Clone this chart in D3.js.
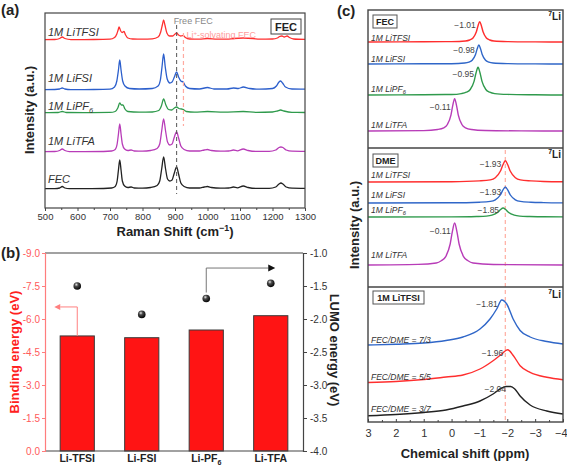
<!DOCTYPE html>
<html><head><meta charset="utf-8">
<script src="https://cdn.jsdelivr.net/npm/d3@7"></script>
<style>body{margin:0;background:#fff}svg{display:block;font-family:"Liberation Sans",Arial,Helvetica,sans-serif}</style>
</head><body><svg width="567" height="468"></svg>
<script>
// ---------------- DATA ----------------
// Panel (a) Raman spectra: [wavenumber (cm-1), intensity above own baseline]
const ramanTicks = [500,600,700,800,900,1000,1100,1200,1300];
const ramanMinor = [550,650,750,850,950,1050,1150,1250];
const ramanSeries = ["1M LiTFSI","1M LiFSI","1M LiPF_{6}","1M LiTFA","FEC"];
const ramanColors = ["#ff3030","#2c5fcc","#2f9a4c","#b83cb8","#222222"];
const ramanOffsets = [168,118,95,56,19];
const ramanLiTFSI = [[500,0.3],[530,0.5],[545,1.5],[553,3],[561,1.5],[580,0.4],[650,0.5],[700,0.8],[714,2.5],[721,6],[725,10],[728,13],[733,9],[737,7.5],[743,8.5],[748,5],[755,2],[770,1],[800,0.8],[830,1.2],[848,3],[856,8],[861,15],[865,20],[869,15],[875,7],[883,4],[893,4],[900,6],[905,7],[911,5],[918,4],[925,4.5],[932,2.5],[945,1],[975,0.8],[1000,1.5],[1030,0.8],[1060,0.8],[1080,1.5],[1110,2],[1140,1.5],[1160,0.8],[1200,1],[1215,2],[1222,3.5],[1229,4],[1236,3],[1245,4],[1252,2.5],[1265,1],[1300,0.6]];
const ramanLiFSI = [[500,0.3],[530,0.5],[545,1],[553,2],[561,1],[580,0.4],[650,0.5],[700,0.8],[714,3],[721,9],[726,20],[730,30],[734,20],[739,9],[746,4],[760,1.5],[790,1],[830,1.5],[848,4],[855,10],[860,23],[865,36],[870,23],[876,11],[884,7],[891,8],[898,13],[905,18],[911,13],[918,9],[925,8],[932,4],[945,1.5],[975,1],[1000,2.5],[1020,1],[1060,1],[1080,2],[1095,1.5],[1110,3],[1130,1.5],[1160,0.8],[1200,1.5],[1212,4],[1220,8],[1225,9],[1231,7],[1240,3],[1260,1],[1300,0.8]];
const ramanLiPF6 = [[500,0.3],[540,0.5],[553,1.5],[566,0.5],[620,0.4],[700,0.6],[716,1.5],[724,5],[730,10],[735,8],[740,8],[746,4],[755,1.5],[790,0.8],[830,1],[850,2.5],[858,7],[865,14],[872,8],[880,3.5],[890,3],[898,5],[905,6],[912,4.5],[920,4],[926,3.5],[935,1.5],[960,0.8],[1000,1.5],[1050,0.8],[1110,1.5],[1150,0.6],[1200,1],[1215,2],[1225,3],[1235,2],[1260,0.6],[1300,0.5]];
const ramanLiTFA = [[500,0.3],[530,0.5],[545,1.5],[553,3],[561,1.5],[575,0.4],[620,0.4],[680,0.5],[705,1],[716,2.5],[722,8],[726,18],[730,28],[734,18],[738,8],[745,3],[755,1.5],[765,2],[775,1],[800,0.8],[825,1.5],[845,3.5],[853,8],[859,21],[865,33],[871,21],[877,10],[884,7],[891,8],[897,14],[905,20],[911,14],[918,6],[928,2.5],[945,1],[975,1],[990,2],[1000,2.5],[1012,1.5],[1040,0.8],[1065,1],[1080,2],[1092,1.2],[1110,3],[1125,1.5],[1150,0.6],[1190,0.6],[1210,2],[1220,4.5],[1226,5],[1232,4.5],[1242,2],[1260,0.8],[1300,0.6]];
const ramanFEC = [[500,0.3],[530,0.4],[545,1],[553,2.5],[561,1],[575,0.3],[620,0.4],[680,0.5],[705,1],[716,2.5],[722,8],[726,19],[730,29],[734,19],[738,8],[745,3],[755,1.5],[765,2],[775,1],[800,0.8],[825,1.5],[845,3.5],[853,8],[859,20],[865,32],[871,20],[877,10],[884,8],[891,9],[897,15],[905,22],[911,15],[918,6],[928,2.5],[945,1],[975,1],[990,2],[1000,2.5],[1012,1.5],[1040,0.8],[1065,1],[1080,2],[1092,1.2],[1110,3],[1125,1.5],[1150,0.6],[1190,0.6],[1210,2],[1220,5],[1226,6],[1232,5],[1242,2],[1260,0.8],[1300,0.6]];
const ramanData = [ramanLiTFSI, ramanLiFSI, ramanLiPF6, ramanLiTFA, ramanFEC];

// Panel (b)
const saltCategories = ["Li-TFSI","Li-FSI","Li-PF_{6}","Li-TFA"];
const bindingEnergy = [-5.23,-5.15,-5.5,-6.15];
const lumoEnergy = [-1.50,-1.93,-1.69,-1.46];
const bindingTicks = [-9,-7.5,-6,-4.5,-3,-1.5,0];
const bindingTickLabels = ["-9.0","-7.5","-6.0","-4.5","-3.0","-1.5","0.0"];
const lumoTicks = [-1,-1.5,-2,-2.5,-3,-3.5,-4];
const lumoTickLabels = ["-1.0","-1.5","-2.0","-2.5","-3.0","-3.5","-4.0"];

// Panel (c) 7Li NMR: [ppm, intensity above own baseline]
const nmrTicks = [3,2,1,0,-1,-2,-3,-4];
const nmrTickLabels = ["3","2","1","0","\u22121","\u22122","\u22123","\u22124"];
const nmrMinor = [2.5,1.5,0.5,-0.5,-1.5,-2.5,-3.5];
const nmrFEC_LiTFSI = [[3,0],[1,0.2],[0,0.4],[-0.5,1],[-0.65,2],[-0.77,4],[-0.89,10.2],[-0.95,16.3],[-1.01,20.4],[-1.07,16.3],[-1.13,10.2],[-1.25,4],[-1.37,2],[-1.52,1],[-2,0.4],[-3,0.1],[-4,0]];
const nmrFEC_LiFSI = [[3,0],[1,0.2],[0,0.3],[-0.47,1],[-0.62,1.9],[-0.74,3.8],[-0.86,9.5],[-0.92,15.2],[-0.98,19],[-1.04,15.2],[-1.10,9.5],[-1.22,3.8],[-1.34,1.9],[-1.49,1],[-2,0.4],[-3,0.1],[-4,0]];
const nmrFEC_LiPF6 = [[3,0],[1,0.3],[0,0.5],[-0.35,1.4],[-0.53,2.8],[-0.67,5.5],[-0.81,13.9],[-0.88,22.2],[-0.95,27.7],[-1.02,22.2],[-1.09,13.9],[-1.23,5.5],[-1.37,2.8],[-1.55,1.4],[-2,0.6],[-3,0.2],[-4,0]];
const nmrFEC_LiTFA = [[3,0],[1,0.4],[0.5,1.5],[0.28,3.2],[0.15,6.5],[0.02,16.2],[-0.045,25.9],[-0.11,32.4],[-0.175,25.9],[-0.24,16.2],[-0.37,6.5],[-0.5,3.2],[-0.72,1.5],[-1.2,0.5],[-2.5,0.1],[-4,0]];
const nmrDME_LiTFSI = [[3,0],[0,0.3],[-1.0,1.1],[-1.39,2.1],[-1.57,4.3],[-1.75,10.7],[-1.84,17],[-1.93,21.3],[-2.02,17],[-2.11,10.7],[-2.29,4.3],[-2.47,2.1],[-2.85,1.1],[-3.3,0.5],[-4,0.2]];
const nmrDME_LiFSI = [[3,0],[0,0.2],[-1.0,0.8],[-1.39,1.6],[-1.57,3.2],[-1.75,8],[-1.84,12.8],[-1.93,16],[-2.02,12.8],[-2.11,8],[-2.29,3.2],[-2.47,1.6],[-2.85,0.8],[-3.3,0.4],[-4,0.15]];
const nmrDME_LiPF6 = [[3,0],[0,0.15],[-0.9,0.5],[-1.25,0.9],[-1.45,1.8],[-1.65,4.5],[-1.75,7.2],[-1.85,9],[-1.95,7.2],[-2.05,4.5],[-2.25,1.8],[-2.45,0.9],[-2.8,0.5],[-3.3,0.25],[-4,0.1]];
const nmrDME_LiTFA = [[3,0],[1.2,0.6],[0.55,2],[0.37,4.2],[0.21,8.4],[0.05,21],[-0.03,33.6],[-0.11,42],[-0.19,33.6],[-0.27,21],[-0.43,8.4],[-0.59,4.2],[-0.77,2],[-1.5,0.5],[-4,0]];
const nmrRatio73 = [[3,1],[2,1.8],[1,3],[0.2,5.5],[-0.41,9],[-1.02,17],[-1.38,27],[-1.62,37],[-1.80,46],[-1.98,42],[-2.21,27],[-2.46,15.5],[-2.82,9],[-3.42,4.5],[-4,2]];
const nmrRatio55 = [[3,0.5],[2,1.5],[1,3.5],[0.2,6],[-0.41,8],[-1.02,14],[-1.49,22.3],[-1.8,29],[-2.01,33.3],[-2.22,27.3],[-2.46,17.3],[-2.82,10.7],[-3.42,5.7],[-4,3.3]];
const nmrRatio37 = [[3,0.3],[2,1.5],[1,3.5],[0.2,6],[-0.41,10],[-1.02,15],[-1.49,22],[-1.8,28],[-1.97,29.5],[-2.12,29.5],[-2.27,27],[-2.46,20],[-2.82,11],[-3.42,5],[-4,2]];
const nmrCurves = [nmrFEC_LiTFSI,nmrFEC_LiFSI,nmrFEC_LiPF6,nmrFEC_LiTFA,nmrDME_LiTFSI,nmrDME_LiFSI,nmrDME_LiPF6,nmrDME_LiTFA,nmrRatio73,nmrRatio55,nmrRatio37];
const nmrOffsets = [380,358,327,291,240,219,205,157,76,39,6];
const nmrColors = ["#ff2e2e","#2f66c8","#2f9a4c","#b83cb8","#ff2e2e","#2f66c8","#2f9a4c","#b83cb8","#2f66c8","#ff2e2e","#222222"];
const nmrNames = ["1M LiTFSI","1M LiFSI","1M LiPF_{6}","1M LiTFA","1M LiTFSI","1M LiFSI","1M LiPF_{6}","1M LiTFA","FEC/DME = 7/3","FEC/DME = 5/5","FEC/DME = 3/7"];
const nmrPeakLabels = ["\u22121.01","\u22120.98","\u22120.95","\u22120.11","\u22121.93","\u22121.93","\u22121.85","\u22120.11","\u22121.81","\u22121.96","\u22122.04"];
const nmrPeakPos = [-1.01,-0.98,-0.95,-0.11,-1.93,-1.93,-1.85,-0.11,-1.80,-2.0,-2.1];
const nmrBoxes = ["FEC","DME","1M LiTFSI"];

// ---------------- HELPERS ----------------
const svg = d3.select("svg");
function rich(t, str, fs){
  const parts = str.split(/([_^]\{[^}]*\})/).filter(p=>p.length);
  let cur = 0;
  parts.forEach(p=>{
    let target=0, txt=p, small=false;
    if(p[0]==='_'){target=fs*0.28; txt=p.slice(2,-1); small=true;}
    else if(p[0]==='^'){target=-fs*0.38; txt=p.slice(2,-1); small=true;}
    const ts = t.append("tspan").attr("dy", target-cur).text(txt);
    if(small) ts.attr("font-size", fs*0.68);
    cur = target;
  });
  return t;
}
function txt(parent, x, y, str, fs, opts={}){
  const t = parent.append("text").attr("x",x).attr("y",y).attr("font-size",fs)
    .attr("fill",opts.fill||"#222").attr("font-weight",opts.bold?"bold":"normal")
    .attr("font-style",opts.italic?"italic":"normal").attr("text-anchor",opts.anchor||"start");
  if(opts.transform) t.attr("transform",opts.transform);
  return rich(t, str, fs);
}
const defs = svg.append("defs");
const gr = defs.append("radialGradient").attr("id","ball").attr("cx","38%").attr("cy","32%").attr("r","70%");
gr.append("stop").attr("offset","0%").attr("stop-color","#e8e8e8");
gr.append("stop").attr("offset","35%").attr("stop-color","#4a4a4a");
gr.append("stop").attr("offset","100%").attr("stop-color","#000");

// ---------------- PANEL (a) ----------------
const ax = d3.scaleLinear().domain([500,1300]).range([45,305]);
const ay = d3.scaleLinear().domain([0,195]).range([208,13]);
const pa = svg.append("g");
ramanData.forEach((data,i)=>{
  pa.append("path").datum(data)
    .attr("d", d3.line().x(d=>ax(d[0])).y(d=>ay(ramanOffsets[i]+d[1])).curve(d3.curveMonotoneX))
    .attr("fill","none").attr("stroke",ramanColors[i]).attr("stroke-width",1.3);
});
pa.append("line").attr("x1",ax(905)).attr("x2",ax(905)).attr("y1",25).attr("y2",194)
  .attr("stroke","#555").attr("stroke-width",1).attr("stroke-dasharray","4,3");
pa.append("line").attr("x1",ax(926)).attr("x2",ax(926)).attr("y1",33).attr("y2",126)
  .attr("stroke","#ffaaa0").attr("stroke-width",1.2).attr("stroke-dasharray","4,3");
txt(pa, ax(905)-3, 24, "Free FEC", 9, {fill:"#888"});
txt(pa, ax(926)+3, 38, "Li^{+}-solvating FEC", 9, {fill:"#ff9c9c"});
const ramanLabelY = [36,82,110,145,183];
ramanSeries.forEach((s,i)=> txt(pa, 48, ramanLabelY[i], s, 11, {italic:true, fill:"#333"}));
pa.append("rect").attr("x",45).attr("y",13).attr("width",260).attr("height",195)
  .attr("fill","none").attr("stroke","#444").attr("stroke-width",1.2);
pa.append("rect").attr("x",271).attr("y",19).attr("width",30).attr("height",15)
  .attr("fill","#fff").attr("stroke","#444").attr("stroke-width",1);
txt(pa, 286, 30.5, "FEC", 11, {bold:true, anchor:"middle"});
const axA = pa.append("g").attr("transform","translate(0,208)")
  .call(d3.axisBottom(ax).tickValues(ramanTicks).tickSize(3).tickPadding(2).tickFormat(d3.format("d")));
axA.select(".domain").remove();
axA.selectAll("line").attr("stroke","#444");
axA.selectAll("text").attr("font-size",9.5).attr("fill","#333").attr("font-family",null);
const axAm = pa.append("g").attr("transform","translate(0,208)")
  .call(d3.axisBottom(ax).tickValues(ramanMinor).tickSize(2).tickFormat(""));
axAm.select(".domain").remove(); axAm.selectAll("line").attr("stroke","#444");
txt(pa, 175, 236, "Raman Shift (cm^{\u22121})", 13, {bold:true, anchor:"middle"});
txt(pa, 0, 0, "Intensity (a.u.)", 13, {bold:true, anchor:"middle", transform:"translate(34,110) rotate(-90)"});
txt(pa, 1, 15, "(a)", 15, {bold:true});

// ---------------- PANEL (b) ----------------
const bx = d3.scaleBand().domain(saltCategories).range([45,303]).paddingInner(0.47).paddingOuter(0.235);
const by = d3.scaleLinear().domain([-9,0]).range([253,451]);
const ry = d3.scaleLinear().domain([-1,-4]).range([253,451]);
const pb = svg.append("g");
pb.selectAll("rect.bar").data(bindingEnergy).enter().append("rect").attr("class","bar")
  .attr("x",(d,i)=>bx(saltCategories[i])).attr("width",bx.bandwidth())
  .attr("y",d=>by(d)).attr("height",d=>by(0)-by(d))
  .attr("fill","#ff1414").attr("stroke","#3a3a3a").attr("stroke-width",1);
pb.selectAll("circle.dot").data(lumoEnergy).enter().append("circle").attr("class","dot")
  .attr("cx",(d,i)=>bx(saltCategories[i])+bx.bandwidth()/2).attr("cy",d=>ry(d)).attr("r",3.8)
  .attr("fill","url(#ball)");
pb.append("line").attr("x1",45).attr("x2",303).attr("y1",253).attr("y2",253).attr("stroke","#444").attr("stroke-width",1.2);
pb.append("line").attr("x1",45).attr("x2",303).attr("y1",451).attr("y2",451).attr("stroke","#444").attr("stroke-width",1.2);
const la = pb.append("g").attr("transform","translate(45,0)")
  .call(d3.axisLeft(by).tickValues(bindingTicks).tickSize(3).tickPadding(2).tickFormat((d,i)=>bindingTickLabels[i]));
la.select(".domain").attr("stroke","#ff7d7d").attr("stroke-width",1.2);
la.selectAll("line").attr("stroke","#ff7d7d");
la.selectAll("text").attr("font-size",10).attr("fill","#ff5a5a").attr("font-family",null);
const ra = pb.append("g").attr("transform","translate(303,0)")
  .call(d3.axisRight(ry).tickValues(lumoTicks).tickSize(4).tickPadding(3).tickFormat((d,i)=>lumoTickLabels[i]));
ra.select(".domain").attr("stroke","#444").attr("stroke-width",1.2);
ra.selectAll("line").attr("stroke","#444");
ra.selectAll("text").attr("font-size",10).attr("fill","#333").attr("font-family",null);
const b0x = bx(saltCategories[0])+bx.bandwidth()/2, b0y = by(bindingEnergy[0]);
pb.append("path").attr("d",`M${b0x},${b0y} V${b0y-29} H${b0x-17}`).attr("fill","none").attr("stroke","#ff8080").attr("stroke-width",1);
pb.append("path").attr("d",`M${b0x-23},${b0y-29} l6,-3 v6 z`).attr("fill","#ff8080");
const b2x = bx(saltCategories[2])+bx.bandwidth()/2, b2y = ry(lumoEnergy[2]);
pb.append("path").attr("d",`M${b2x},${b2y-6} V${b2y-30.5} H${b2x+62}`).attr("fill","none").attr("stroke","#777").attr("stroke-width",1);
pb.append("path").attr("d",`M${b2x+69},${b2y-30.5} l-7,-3.5 v7 z`).attr("fill","#111");
saltCategories.forEach((c,i)=> txt(pb, bx(c)+bx.bandwidth()/2, 462, c, 10.5, {bold:true, anchor:"middle"}));
txt(pb, 0, 0, "Binding energy (eV)", 13, {bold:true, anchor:"middle", fill:"#ff2020", transform:"translate(19,352) rotate(-90)"});
txt(pb, 0, 0, "LUMO energy (eV)", 13, {bold:true, anchor:"middle", transform:"translate(330,350) rotate(90)"});
txt(pb, 1, 258, "(b)", 15, {bold:true});

// ---------------- PANEL (c) ----------------
const cx = d3.scaleLinear().domain([3,-4]).range([368,563]);
const cy = d3.scaleLinear().domain([0,412]).range([422,10]);
const pc = svg.append("g");
pc.append("line").attr("x1",cx(-1.93)).attr("x2",cx(-1.93)).attr("y1",150).attr("y2",421)
  .attr("stroke","#ffb4a8").attr("stroke-width",1.3).attr("stroke-dasharray","4,3");
nmrCurves.forEach((data,i)=>{
  pc.append("path").datum(data)
    .attr("d", d3.line().x(d=>cx(d[0])).y(d=>cy(nmrOffsets[i]+d[1])).curve(d3.curveMonotoneX))
    .attr("fill","none").attr("stroke",nmrColors[i]).attr("stroke-width",1.4);
});
const nmrNameY = [41,62,92,128,178,198,213,258,343,380,412];
nmrNames.forEach((n,i)=> txt(pc, 371, nmrNameY[i], n, 8.5, {italic:true, fill:"#333"}));
const nmrPeakLabelY = [28,53,77,110,167,195,213,234,307,356,392];
nmrPeakLabels.forEach((l,i)=>{
  txt(pc, cx(nmrPeakPos[i])-4, nmrPeakLabelY[i], l, 8.5, {anchor:"end", fill:"#444"});
});
pc.append("rect").attr("x",368).attr("y",10).attr("width",195).attr("height",412)
  .attr("fill","none").attr("stroke","#444").attr("stroke-width",1.4);
[148,287].forEach(y=> pc.append("line").attr("x1",368).attr("x2",563).attr("y1",y).attr("y2",y).attr("stroke","#444").attr("stroke-width",1.4));
const boxY = [15,154,291], boxW = [24,25,51];
nmrBoxes.forEach((b,i)=>{
  pc.append("rect").attr("x",373).attr("y",boxY[i]).attr("width",boxW[i]).attr("height",13)
    .attr("fill","#fff").attr("stroke","#555").attr("stroke-width",1);
  txt(pc, 373+boxW[i]/2, boxY[i]+10, b, 9, {bold:true, anchor:"middle"});
});
[20,158,298].forEach(y=> txt(pc, 561, y, "^{7}Li", 10, {bold:true, anchor:"end"}));
const cxa = pc.append("g").attr("transform","translate(0,422)")
  .call(d3.axisBottom(cx).tickValues(nmrTicks).tickSizeInner(-3).tickSizeOuter(0).tickPadding(7).tickFormat((d,i)=>nmrTickLabels[i]));
cxa.select(".domain").remove();
cxa.selectAll("line").attr("stroke","#444");
cxa.selectAll("text").attr("font-size",11).attr("fill","#333").attr("font-family",null);
cxa.selectAll(".tick").filter(d=>d===-4).select("text").attr("text-anchor","end").attr("dx",4);
const cxm = pc.append("g").attr("transform","translate(0,422)")
  .call(d3.axisBottom(cx).tickValues(nmrMinor).tickSizeInner(-2).tickSizeOuter(0).tickFormat(""));
cxm.select(".domain").remove(); cxm.selectAll("line").attr("stroke","#444");
txt(pc, 465, 458, "Chemical shift (ppm)", 13, {bold:true, anchor:"middle"});
txt(pc, 0, 0, "Intensity (a.u.)", 13, {bold:true, anchor:"middle", transform:"translate(359,225) rotate(-90)"});
txt(pc, 337, 16, "(c)", 15, {bold:true});
</script></body></html>
